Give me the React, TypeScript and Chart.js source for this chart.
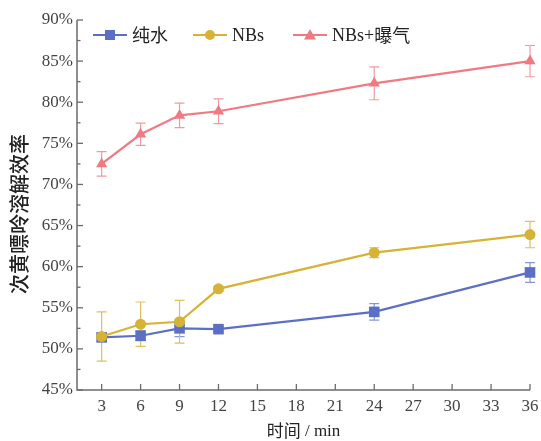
import React, { useEffect, useRef } from "react";
import { Chart, registerables } from "chart.js";

Chart.register(...registerables);

const times = [3, 6, 9, 12, 24, 36];
const xTicks = [3, 6, 9, 12, 15, 18, 21, 24, 27, 30, 33, 36];
const yTicks = [45, 50, 55, 60, 65, 70, 75, 80, 85, 90];
const yMinorTicks = [47.5, 52.5, 57.5, 62.5, 67.5, 72.5, 77.5, 82.5, 87.5];

const seriesNames = ["纯水", "NBs", "NBs+曝气"];
const waterVals = [51.4, 51.6, 52.5, 52.4, 54.5, 59.3];
const waterErr = [0.5, 0.6, 1.0, 0.3, 1.0, 1.2];
const nbsVals = [51.5, 53.0, 53.3, 57.3, 61.7, 63.9];
const nbsErr = [3.0, 2.7, 2.6, 0.3, 0.6, 1.6];
const aerVals = [72.5, 76.1, 78.4, 78.9, 82.3, 85.0];
const aerErr = [1.5, 1.35, 1.5, 1.5, 2.0, 1.9];

const colors = ["#5b70c4", "#d6b236", "#f07a80"];
const errColors = ["#8796d4", "#dcc062", "#f29aa0"];
const markers = ["rect", "circle", "triangle"];
const radii = [7.5, 5.5, 6.5];

const serif = "'Liberation Serif', 'Times New Roman', serif";
const cjk = "'Noto Sans CJK SC', sans-serif";

const allVals = [waterVals, nbsVals, aerVals];
const allErr = [waterErr, nbsErr, aerErr];

const customPlugin = {
  id: "customAxes",
  beforeDatasetsDraw(chart: any) {
    const { ctx } = chart;
    const xs = chart.scales.x;
    const ys = chart.scales.y;
    ctx.save();
    allVals.forEach((vals, si) => {
      ctx.strokeStyle = errColors[si];
      ctx.lineWidth = 1.2;
      vals.forEach((v, i) => {
        const e = allErr[si][i];
        const px = xs.getPixelForValue(times[i]);
        const top = ys.getPixelForValue(v + e);
        const bot = ys.getPixelForValue(v - e);
        ctx.beginPath();
        ctx.moveTo(px, top);
        ctx.lineTo(px, bot);
        ctx.moveTo(px - 5, top);
        ctx.lineTo(px + 5, top);
        ctx.moveTo(px - 5, bot);
        ctx.lineTo(px + 5, bot);
        ctx.stroke();
      });
    });
    ctx.restore();
  },
  afterDraw(chart: any) {
    const { ctx, chartArea } = chart;
    const xs = chart.scales.x;
    const ys = chart.scales.y;
    const { left, right, top, bottom } = chartArea;
    ctx.save();
    ctx.strokeStyle = "#6b6b6b";
    ctx.lineWidth = 1.5;
    ctx.beginPath();
    ctx.moveTo(left, top);
    ctx.lineTo(left, bottom);
    ctx.lineTo(right, bottom);
    ctx.stroke();
    // y ticks
    ctx.lineWidth = 1.3;
    ctx.fillStyle = "#444";
    ctx.font = `17px ${serif}`;
    ctx.textAlign = "right";
    ctx.textBaseline = "middle";
    yTicks.forEach((t) => {
      const py = ys.getPixelForValue(t);
      ctx.beginPath();
      ctx.moveTo(left, py);
      ctx.lineTo(left + 6, py);
      ctx.stroke();
      ctx.fillText(`${t}%`, left - 4, py);
    });
    yMinorTicks.forEach((t) => {
      const py = ys.getPixelForValue(t);
      ctx.beginPath();
      ctx.moveTo(left, py);
      ctx.lineTo(left + 3.5, py);
      ctx.stroke();
    });
    // x ticks
    ctx.textAlign = "center";
    ctx.textBaseline = "top";
    xTicks.forEach((t) => {
      const px = xs.getPixelForValue(t);
      ctx.beginPath();
      ctx.moveTo(px, bottom);
      ctx.lineTo(px, bottom - 6);
      ctx.stroke();
      ctx.fillText(String(t), px, bottom + 8);
    });
    // x title
    ctx.fillStyle = "#222";
    ctx.textBaseline = "middle";
    const p1 = "时间";
    ctx.font = `17px ${serif}`;
    const p2 = " / min";
    const w2 = ctx.measureText(p2).width;
    ctx.font = `17px ${cjk}`;
    const w1 = ctx.measureText(p1).width;
    const cx = (left + right) / 2;
    const sx = cx - (w1 + w2) / 2;
    ctx.textAlign = "left";
    ctx.fillText(p1, sx, 431);
    ctx.font = `17px ${serif}`;
    ctx.fillText(p2, sx + w1, 432);
    // y title
    ctx.save();
    ctx.translate(19, 214);
    ctx.rotate(-Math.PI / 2);
    ctx.textAlign = "center";
    ctx.font = `500 20px ${cjk}`;
    ctx.fillText("次黄嘌呤溶解效率", 0, 0);
    ctx.restore();
    // legend
    const legendX = [93, 193, 293];
    const ly = 35;
    seriesNames.forEach((name, i) => {
      const x0 = legendX[i];
      ctx.strokeStyle = colors[i];
      ctx.lineWidth = 2;
      ctx.beginPath();
      ctx.moveTo(x0, ly);
      ctx.lineTo(x0 + 34, ly);
      ctx.stroke();
      ctx.fillStyle = colors[i];
      const mx = x0 + 17;
      if (i === 0) {
        ctx.fillRect(mx - 5, ly - 5, 10, 10);
      } else if (i === 1) {
        ctx.beginPath();
        ctx.arc(mx, ly, 5, 0, Math.PI * 2);
        ctx.fill();
      } else {
        ctx.beginPath();
        ctx.moveTo(mx, ly - 6);
        ctx.lineTo(mx + 6, ly + 4.5);
        ctx.lineTo(mx - 6, ly + 4.5);
        ctx.closePath();
        ctx.fill();
      }
      ctx.fillStyle = "#222";
      ctx.textAlign = "left";
      ctx.textBaseline = "middle";
      let tx = x0 + 39;
      const runs = name.match(/[A-Za-z0-9+]+|[^A-Za-z0-9+]+/g) || [];
      runs.forEach((r) => {
        const isLatin = /[A-Za-z0-9+]/.test(r);
        ctx.font = isLatin ? `18px ${serif}` : `18px ${cjk}`;
        ctx.fillText(r, tx, isLatin ? ly + 1 : ly);
        tx += ctx.measureText(r).width;
      });
    });
    ctx.restore();
  },
};

export default function App() {
  const ref = useRef<HTMLCanvasElement | null>(null);
  useEffect(() => {
    if (!ref.current) return;
    const datasets = allVals.map((vals, i) => ({
      label: seriesNames[i],
      data: vals.map((v, j) => ({ x: times[j], y: v })),
      borderColor: colors[i],
      backgroundColor: colors[i],
      borderWidth: 2.2,
      pointStyle: markers[i],
      pointRadius: radii[i],
      pointBorderWidth: 0,
      pointBackgroundColor: colors[i],
      tension: 0,
      clip: false,
      order: i === 0 ? 2 : i === 1 ? 1 : 0,
    }));
    const chart = new Chart(ref.current, {
      type: "line",
      data: { datasets: datasets as any },
      options: {
        animation: false,
        responsive: false,
        layout: { padding: { left: 77, right: 11, top: 20, bottom: 51 } },
        plugins: { legend: { display: false }, tooltip: { enabled: false } },
        scales: {
          x: { type: "linear", min: 1.1, max: 36, display: false },
          y: { type: "linear", min: 45, max: 90, display: false },
        },
      },
      plugins: [customPlugin],
    });
    return () => chart.destroy();
  }, []);
  return (
    <div style={{ position: "fixed", left: 0, top: 0, width: 541, height: 441, background: "#fff" }}>
      <canvas ref={ref} width={541} height={441} style={{ width: 541, height: 441 }} />
    </div>
  );
}
